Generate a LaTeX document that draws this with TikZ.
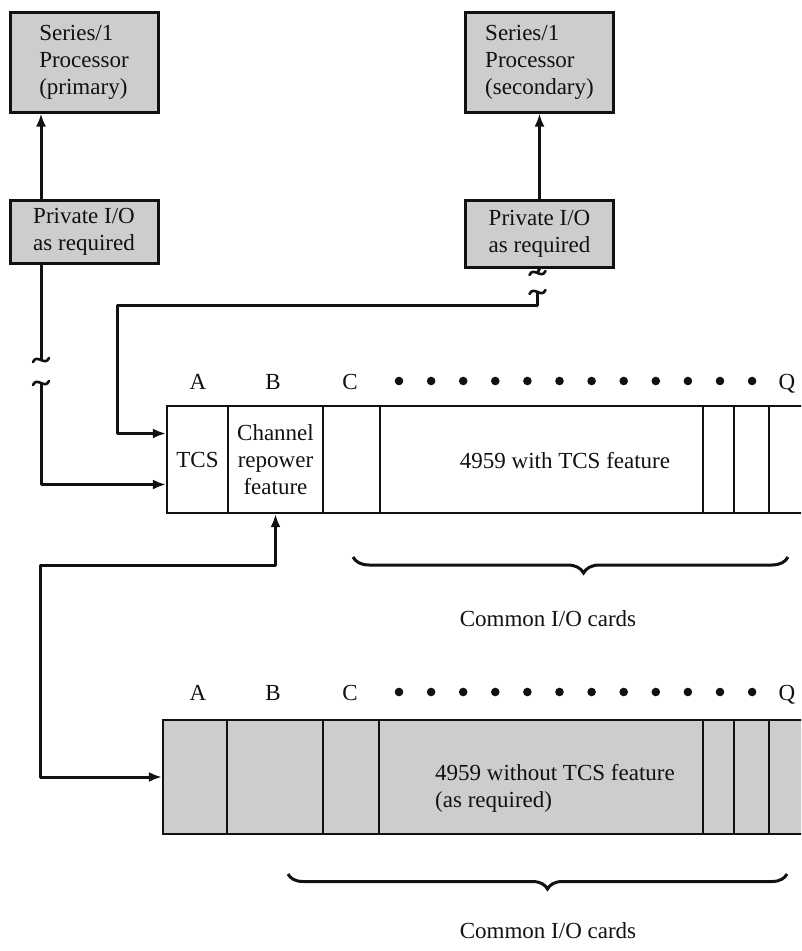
\documentclass[tikz,border=0pt]{standalone}
\usepackage{fontspec}
\setmainfont{Liberation Serif}
\usepackage{tikz}
\usetikzlibrary{positioning,arrows.meta,decorations.pathreplacing}
\usepackage{xcolor}
\definecolor{stipGrey}{HTML}{CDCDCD}
\definecolor{inkBlack}{HTML}{111111}

\begin{document}
\begin{tikzpicture}[x=1pt,y=-1pt,every node/.style={font=\fontsize{23}{27}\selectfont,inner sep=0pt,text=inkBlack},
  procbox/.style={draw=inkBlack,line width=3pt,fill=stipGrey,align=left,minimum width=148pt,minimum height=100pt},
  iobox/.style={draw=inkBlack,line width=3pt,fill=stipGrey,align=center,minimum width=148pt},
  slot/.style={draw=inkBlack,line width=2.2pt,align=center,minimum height=107pt},
  gslot/.style={slot,fill=stipGrey,minimum height=114pt},
  link/.style={draw=inkBlack,line width=3pt,line join=round},
  breakmark/.style={draw=inkBlack,line width=2.6pt,line cap=round}]
\useasboundingbox (0,0) rectangle (801,951);
\clip (0,0) rectangle (801,951);
% processors and private I/O
\node[procbox] (procA) at (84,62) {Series/1\\Processor\\(primary)};
\node[procbox] (procB) at (539.5,62) {Series/1\\Processor\\(secondary)};
\node[iobox,minimum height=63pt] (pioA) at (84,231.5) {Private I/O\\as required};
\node[iobox,minimum height=67pt] (pioB) at (539.5,233.5) {Private I/O\\as required};
% 4959 with TCS feature
\node[slot,minimum width=61pt] (tcs) at (197.5,459.5) {TCS};
\node[slot,minimum width=95pt] (chan) at (275.5,459.5) {Channel\\repower\\feature};
\node[slot,minimum width=57pt] (topC) at (351.5,459.5) {};
\node[slot,minimum width=323pt] (topW) at (541.5,459.5) {};
\node[slot,minimum width=31pt] (topN1) at (718.5,459.5) {};
\node[slot,minimum width=35pt] (topN2) at (751.5,459.5) {};
\node[slot,minimum width=46pt] (topN3) at (792,459.5) {};
\node[anchor=base] (withTxt) at (565,468) {4959 with TCS feature};
% 4959 without TCS feature
\node[gslot,minimum width=64pt] (botA) at (195,777) {};
\node[gslot,minimum width=96pt] (botB) at (275,777) {};
\node[gslot,minimum width=56pt] (botC) at (351,777) {};
\node[gslot,minimum width=324pt] (botW) at (541,777) {};
\node[gslot,minimum width=31pt] (botN1) at (718.5,777) {};
\node[gslot,minimum width=35pt] (botN2) at (751.5,777) {};
\node[gslot,minimum width=46pt] (botN3) at (792,777) {};
\node[anchor=north west,align=left] (withoutTxt) at (435,764) {4959 without TCS feature\\(as required)};
% slot letters and dots
\foreach \l/\x in {A/198,B/273,C/350,Q/787} {
  \node[anchor=base] (topL\l) at (\x,389) {\l};
  \node[anchor=base] (botL\l) at (\x,700) {\l};
}
\foreach \i in {0,...,11} {
  \fill[inkBlack] (399+32.1*\i,381) circle (4.3pt);
  \fill[inkBlack] (399+32.1*\i,692) circle (4.3pt);
}
% braces
\draw[inkBlack,line width=3pt,decorate,decoration={brace,amplitude=16pt,aspect=0.47}] (788,557) -- (353,557);
\node[anchor=base] (cardsTop) at (548,626) {Common I/O cards};
\draw[inkBlack,line width=3pt,decorate,decoration={brace,amplitude=15pt,aspect=0.48}] (787,874) -- (288,874);
\node[anchor=base] (cardsBot) at (548,938) {Common I/O cards};
% connectors
\coordinate (brkA1) at (41,360);
\coordinate (brkA2) at (41,383);
\coordinate (brkB1) at (537.5,273);
\coordinate (brkB2) at (537.5,292);
\coordinate (cornerB) at (117,305);
\coordinate (bendC) at (40,565);
\draw[link,-{Latex[length=13pt,width=10pt]}] ([xshift=-43pt]pioA.north) -- ([xshift=-43pt]procA.south);
\draw[link,-{Latex[length=13pt,width=10pt]}] (pioB.north) -- (procB.south);
\draw[link] ([xshift=-43pt]pioA.south) -- (brkA1);
\draw[link,-{Latex[length=13pt,width=10pt]}] (brkA2) |- ([yshift=-25pt]tcs.west);
\draw[link] (pioB.south) -- (brkB1);
\draw[link,-{Latex[length=13pt,width=10pt]}] (brkB2) |- (cornerB) |- ([yshift=26pt]tcs.west);
\draw[link,{Latex[length=13pt,width=10pt]}-{Latex[length=13pt,width=10pt]}] (botA.west) -| (bendC) -| (chan.south);
\foreach \p in {brkA1,brkA2,brkB1,brkB2}
  \draw[breakmark,shift={(\p)}] (-8,2) .. controls (-4,-7) and (4,7) .. (8,-2);
\end{tikzpicture}
\end{document}
